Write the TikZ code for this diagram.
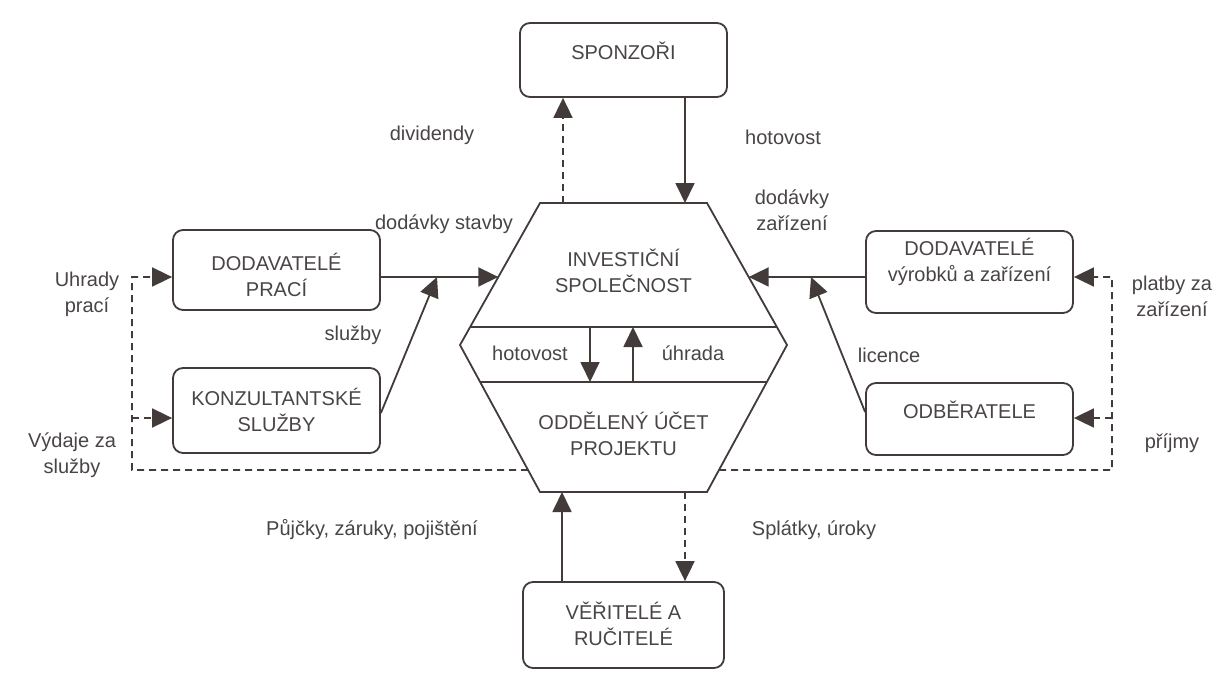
\documentclass[tikz,border=0pt]{standalone}
\usepackage{fontspec}
\setmainfont{Liberation Sans}
\usetikzlibrary{arrows.meta,calc}
\definecolor{ink}{HTML}{433A3A}
\definecolor{txt}{HTML}{4A4545}
\begin{document}
\begin{tikzpicture}[x=1pt,y=-1pt,
  font=\fontsize{20}{26}\selectfont,
  line/.style={draw=ink, line width=1.8pt},
  box/.style={line, rounded corners=10pt, inner sep=0pt, minimum width=207pt},
  lbl/.style={text=txt, align=center, inner sep=0pt},
  tip/.style={-{Triangle[length=20pt,width=19pt]}},
  flow/.style={line, tip},
  dflow/.style={line, tip, dash pattern=on 7pt off 5pt},
]
\fill[white] (0,0) rectangle (1230,682);
\useasboundingbox (0,0) rectangle (1230,682);

% ---- central hexagon: investment company over the project account ----
\coordinate (hT1) at (540,203);
\coordinate (hT2) at (707,203);
\coordinate (hR)  at (787,345);
\coordinate (hB2) at (707,492);
\coordinate (hB1) at (540,492);
\coordinate (hL)  at (460,345);
\draw[line, line join=miter] (hT1) -- (hT2) -- (hR) -- (hB2) -- (hB1) -- (hL) -- cycle;
% middle band
\path (hT1) -- (hL) coordinate[pos=0.873] (bTL) coordinate[pos=0.521] (inL);
\path (hT2) -- (hR) coordinate[pos=0.873] (bTR) coordinate[pos=0.521] (inR);
\path (hL) -- (hB1) coordinate[pos=0.252] (bBL) coordinate[pos=0.850] (outL);
\path (hR) -- (hB2) coordinate[pos=0.252] (bBR) coordinate[pos=0.850] (outR);
\draw[line] (bTL) -- (bTR);
\draw[line] (bBL) -- (bBR);

\node[lbl] (inv)  at (623.5,271) {INVESTIČNÍ\\SPOLEČNOST};
\node[lbl] (acc)  at (623.5,434) {ODDĚLENÝ ÚČET\\PROJEKTU};
\node[lbl] (mhot) at (530,353) {hotovost};
\node[lbl] (muhr) at (693,353) {úhrada};

\coordinate (m1t) at (590,327);
\coordinate (m1b) at (590,382);
\coordinate (m2t) at (633,327);
\coordinate (m2b) at (633,382);
\draw[flow] (m1t) -- (m1b);
\draw[flow] (m2b) -- (m2t);

% ---- surrounding parties ----
\node[box, minimum height=74pt] (spons) at (623.5,60) {};
\node[lbl] (spons-t) at (623.5,51) {SPONZOŘI};

\node[box, minimum height=80pt] (dp) at (276.5,270) {};
\node[lbl] (dp-t) at (276.5,275) {DODAVATELÉ\\PRACÍ};

\node[box, minimum height=85pt] (ks) at (276.5,410.5) {};
\node[lbl] (ks-t) at (276.5,410) {KONZULTANTSKÉ\\SLUŽBY};

\node[box, minimum height=82pt] (dv) at (969.5,272) {};
\node[lbl] (dv-t) at (969.5,262) {DODAVATELÉ\\výrobků a zařízení};

\node[box, minimum height=72pt] (odb) at (969.5,419) {};
\node[lbl] (odb-t) at (969.5,410) {ODBĚRATELE};

\node[box, minimum height=86pt, minimum width=201pt] (ver) at (623.5,625) {};
\node[lbl] (ver-t) at (623.5,624) {VĚŘITELÉ A\\RUČITELÉ};

% ---- sponsors ----
\coordinate (hdiv) at (563,203);
\coordinate (hhot) at (685,203);
\draw[dflow] (hdiv) -- (spons.south -| hdiv);
\draw[flow] (spons.south -| hhot) -- (hhot);
\node[lbl] (l-div) at (432,135) {dividendy};
\node[lbl] (l-hot) at (783,137) {hotovost};

% ---- suppliers of works and consultants ----
\coordinate (sj) at (437,277);
\draw[flow] (dp.east |- inL) -- (inL);
\draw[flow] ([yshift=-2.5pt]ks.east) -- (sj);
\node[lbl] (l-ds) at (444,224) {dodávky stavby};
\node[lbl] (l-sl) at (353,335) {služby};

% ---- equipment suppliers and customers ----
\coordinate (lj) at (811,277);
\draw[flow] (dv.west |- inR) -- (inR);
\draw[flow] ([yshift=7pt]odb.west) -- (lj);
\node[lbl] (l-dz) at (792,210) {dodávky\\zařízení};
\node[lbl] (l-lic) at (889,355) {licence};

% ---- lenders and guarantors ----
\coordinate (hpu) at (562,492);
\coordinate (hspl) at (685,492);
\draw[flow] (ver.north -| hpu) -- (hpu);
\draw[dflow] (hspl) -- (ver.north -| hspl);
\node[lbl] (l-pu) at (372,530) {Půjčky, záruky, pojištění};
\node[lbl] (l-sp) at (814,530) {Splátky, úroky};

% ---- payments out of the project account ----
\coordinate (lc1) at (132,470);
\coordinate (lc2) at (132,277);
\coordinate (lc3) at (132,418);
\draw[dflow] (outL) -- (lc1) -- (lc2) -- (dp.west |- lc2);
\draw[dflow] (lc3) -- (ks.west |- lc3);
\node[lbl] (l-uh) at (87,294) {Uhrady\\prací};
\node[lbl] (l-vy) at (72,455) {Výdaje za\\služby};

\coordinate (rc1) at (1112,470);
\coordinate (rc2) at (1112,277);
\coordinate (rc3) at (1112,418);
\draw[dflow] (outR) -- (rc1) -- (rc2) -- (dv.east |- rc2);
\draw[dflow] (rc3) -- (odb.east |- rc3);
\node[lbl] (l-pl) at (1172,296) {platby za\\zařízení};
\node[lbl] (l-pr) at (1172,443) {příjmy};
\end{tikzpicture}
\end{document}
